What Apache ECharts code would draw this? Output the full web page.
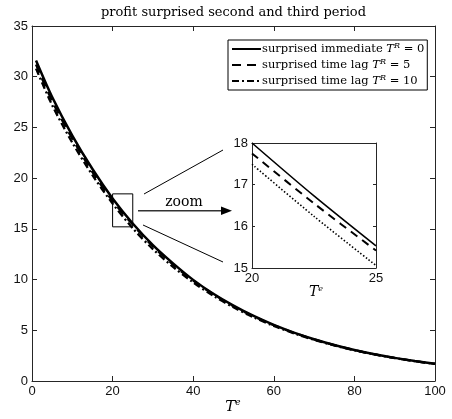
<!DOCTYPE html>
<html><head><meta charset="utf-8">
<script src="https://cdn.jsdelivr.net/npm/echarts@6/dist/echarts.min.js"></script>
<style>html,body{margin:0;padding:0;background:#fff}#c{width:452px;height:419px}</style>
</head><body><div id="c"></div><script>
// Profit over the evaluation horizon T^e for three surprise scenarios
const periods = [1, 5, 10, 15, 20, 25, 30, 35, 40, 45, 50, 55, 60, 65, 70, 75, 80, 85, 90, 95, 100];
const profitImmediate = [31.6, 28.0, 24.2, 20.9, 18.0, 15.53, 13.4, 11.6, 9.97, 8.6, 7.43, 6.41, 5.53, 4.77, 4.12, 3.55, 3.06, 2.64, 2.28, 1.97, 1.70];
const profitLag5      = [31.2, 27.6, 23.9, 20.6, 17.75, 15.42, 13.28, 11.48, 9.9, 8.55, 7.38, 6.37, 5.5, 4.75, 4.1, 3.54, 3.05, 2.63, 2.27, 1.96, 1.69];
const profitLag10     = [30.8, 27.2, 23.5, 20.3, 17.49, 15.06, 13.0, 11.25, 9.72, 8.4, 7.27, 6.28, 5.43, 4.7, 4.06, 3.51, 3.03, 2.62, 2.26, 1.95, 1.68];
// Close-up of the window 20 <= T^e <= 25
const zoomPeriods = [20, 22.5, 25];
const zoomImmediate = [18.0, 16.73, 15.53];
const zoomLag5      = [17.75, 16.55, 15.42];
const zoomLag10     = [17.49, 16.24, 15.06];

const seriesNames = ['surprised immediate T^R = 0', 'surprised time lag T^R = 5', 'surprised time lag T^R = 10'];
const mainXTicks = { min: 0, max: 100, interval: 20 };
const mainYTicks = { min: 0, max: 35, interval: 5 };
const zoomX = { min: 20, max: 25, interval: 5 };
const zoomY = { min: 15, max: 18, interval: 1 };
const zoomBox = [[20, 15.2], [25, 18.45]];

const axisColor = '#262626';
const sans = 'Liberation Sans';
const serif = 'DejaVu Serif';

const pairs = (xs, ys) => xs.map((x, i) => [x, ys[i]]);

function valueAxis(range, grid, pos, labels, tickLen, extra) {
  return Object.assign({
    type: 'value', gridIndex: grid, position: pos,
    min: range.min, max: range.max, interval: range.interval,
    axisLine: { show: true, onZero: false, lineStyle: { color: axisColor, width: 1 } },
    axisTick: { show: true, inside: true, length: tickLen, lineStyle: { color: axisColor } },
    axisLabel: { show: labels, color: '#111', fontFamily: sans, fontSize: 13, margin: 4 },
    splitLine: { show: false }
  }, extra || {});
}

const styles = [
  { type: 'solid', width: 2.5 },
  { type: [9, 6], width: 2.3 },
  { type: [7, 3, 2, 3], width: 2.3 }
];
const zoomStyles = [
  { type: 'solid', width: 1.6 },
  { type: [8, 6], width: 2 },
  { type: [1.5, 2], width: 1.6 }
];
const mainData = [profitImmediate, profitLag5, profitLag10];
const zoomData = [zoomImmediate, zoomLag5, zoomLag10];

const series = [];
mainData.forEach((ys, i) => {
  series.push({
    name: seriesNames[i], type: 'line', xAxisIndex: 0, yAxisIndex: 0,
    data: pairs(periods, ys), symbol: 'none', smooth: 0.3,
    lineStyle: Object.assign({ color: '#000' }, styles[i]), itemStyle: { color: '#000' },
    z: 3 - i,
    markArea: i === 0 ? {
      silent: true,
      itemStyle: { color: 'rgba(0,0,0,0)', borderColor: '#000', borderWidth: 1 },
      data: [[{ coord: zoomBox[0] }, { coord: zoomBox[1] }]]
    } : undefined
  });
});
zoomData.forEach((ys, i) => {
  series.push({
    name: 'zoom ' + i, type: 'line', xAxisIndex: 2, yAxisIndex: 2,
    data: pairs(zoomPeriods, ys), symbol: 'none', smooth: 0.3, z: 10,
    lineStyle: Object.assign({ color: '#000' }, zoomStyles[i]), itemStyle: { color: '#000' }
  });
});

function richName(name) {
  const m = name.match(/^(.*)T\^R(.*)$/);
  return '{t|' + m[1] + '}{i|T}{s|R}{t|' + m[2] + '}';
}
const legendRich = {
  t: { fontFamily: serif, fontSize: 11.5, color: '#000' },
  i: { fontFamily: serif, fontSize: 11.5, fontStyle: 'italic', color: '#000' },
  s: { fontFamily: serif, fontSize: 8, fontStyle: 'italic', color: '#000', verticalAlign: 'top', padding: [0, 0, 6, 0] }
};

const chart = echarts.init(document.getElementById('c'), null, { renderer: 'canvas' });
chart.setOption({
  animation: false,
  backgroundColor: '#fff',
  grid: [
    { left: 32, right: 17, top: 26, bottom: 38, show: false },
    { left: 252, width: 124, top: 143, height: 125, show: false }
  ],
  xAxis: [
    valueAxis(mainXTicks, 0, 'bottom', true, 5),
    valueAxis(mainXTicks, 0, 'top', false, 5),
    valueAxis(zoomX, 1, 'bottom', true, 3),
    valueAxis(zoomX, 1, 'top', false, 3)
  ],
  yAxis: [
    valueAxis(mainYTicks, 0, 'left', true, 5),
    valueAxis(mainYTicks, 0, 'right', false, 5),
    valueAxis(zoomY, 1, 'left', true, 3),
    valueAxis(zoomY, 1, 'right', false, 3)
  ],
  legend: {
    data: seriesNames, orient: 'vertical', left: 228, top: 40,
    itemWidth: 29, itemHeight: 12, itemGap: 3,
    padding: [2, 3, 3, 3],
    borderColor: '#000', borderWidth: 1, backgroundColor: '#fff',
    itemStyle: { opacity: 0, borderWidth: 0 },
    formatter: richName,
    textStyle: { rich: legendRich, padding: [0, 0, 0, -4] },
    selectedMode: false
  },
  series: series,
  graphic: [
    { type: 'text', style: { x: 233.5, y: 13, text: 'profit surprised second and third period', font: '13px "DejaVu Serif"', fill: '#000', align: 'center', verticalAlign: 'middle' } },
    { type: 'text', style: { x: 233, y: 407, rich: { i: { fontFamily: serif, fontSize: 15, fontStyle: 'italic' }, s: { fontFamily: serif, fontSize: 9, fontStyle: 'italic', verticalAlign: 'top', padding: [0, 0, 8, 0] } }, text: '{i|T}{s|e}', fill: '#000', align: 'center', verticalAlign: 'middle' } },
    { type: 'text', z: 10, style: { x: 316, y: 292, rich: { i: { fontFamily: serif, fontSize: 14, fontStyle: 'italic' }, s: { fontFamily: serif, fontSize: 8, fontStyle: 'italic', verticalAlign: 'top', padding: [0, 0, 7, 0] } }, text: '{i|T}{s|e}', fill: '#000', align: 'center', verticalAlign: 'middle' } },
    { type: 'line', shape: { x1: 144, y1: 194, x2: 223, y2: 150 }, style: { stroke: '#000', lineWidth: 1 } },
    { type: 'line', shape: { x1: 143, y1: 225, x2: 223, y2: 262 }, style: { stroke: '#000', lineWidth: 1 } },
    { type: 'line', shape: { x1: 138, y1: 210.7, x2: 224, y2: 210.7 }, style: { stroke: '#333', lineWidth: 1.5 } },
    { type: 'polygon', shape: { points: [[221, 206.5], [232, 210.7], [221, 215]] }, style: { fill: '#000' } },
    { type: 'text', style: { x: 184, y: 202, text: 'zoom', font: '14px "DejaVu Serif"', fill: '#000', align: 'center', verticalAlign: 'middle' } }
  ]
});
</script></body></html>
